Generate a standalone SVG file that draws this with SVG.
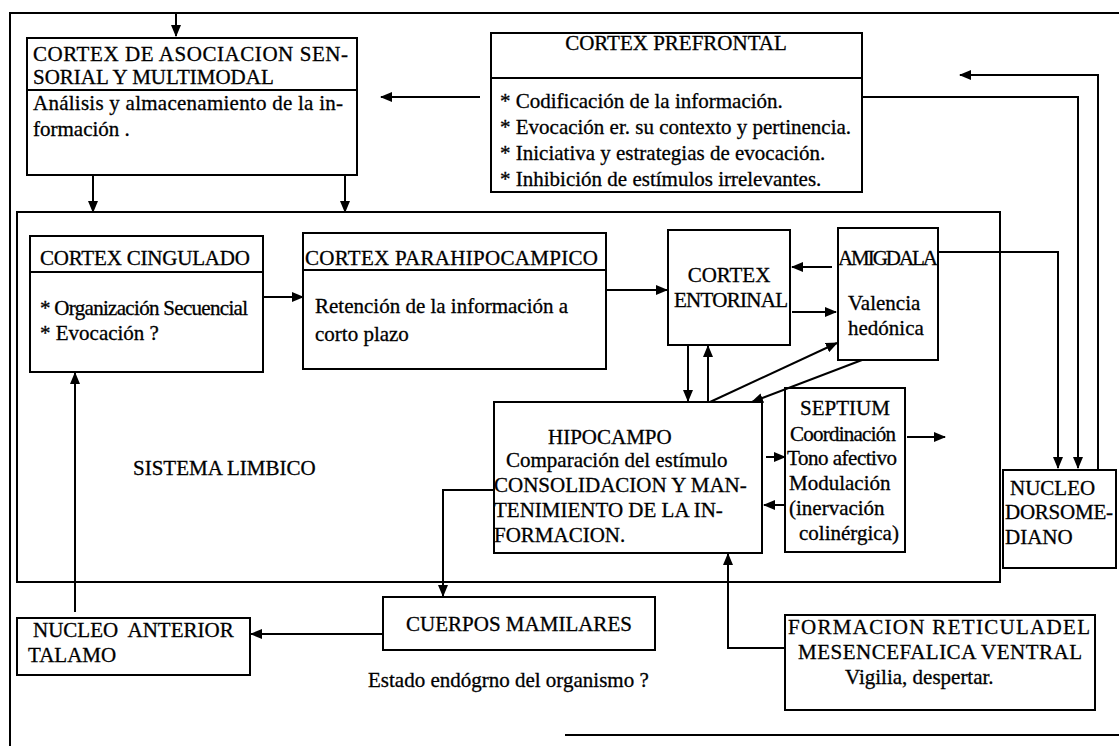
<svg xmlns="http://www.w3.org/2000/svg" width="1119" height="746" viewBox="0 0 1119 746">
<defs>
<marker id="ah" markerWidth="12" markerHeight="10" refX="11" refY="5" orient="auto" markerUnits="userSpaceOnUse">
<path d="M0,0 L12,5 L0,10 Z" fill="#000"/>
</marker>
<style>
.b{fill:none;stroke:#000;stroke-width:2}
.t{font-family:"Liberation Serif","Times New Roman",serif;font-size:21px;fill:#000;stroke:#000;stroke-width:0.3}
.c{fill:none;stroke:#000;stroke-width:2;marker-end:url(#ah)}
.l{fill:none;stroke:#000;stroke-width:2}
</style>
</defs>
<rect width="1119" height="746" fill="#fff"/>
<path class="l" d="M10,746 V13 H1119"/>
<path class="l" d="M565,735 H1119"/>

<g id="sistema-limbico">
<rect class="b" x="17" y="212" width="983" height="370"/>
<text class="t" x="133" y="475">SISTEMA LIMBICO</text>
</g>

<g id="cortex-asociacion">
<rect class="b" x="27" y="38" width="330" height="137"/>
<line class="l" x1="27" y1="90" x2="357" y2="90"/>
<text class="t" x="33" y="61" textLength="315">CORTEX DE ASOCIACION SEN-</text>
<text class="t" x="33" y="84">SORIAL Y MULTIMODAL</text>
<text class="t" x="33" y="110" textLength="310">Análisis y almacenamiento de la in-</text>
<text class="t" x="33" y="136">formación .</text>
</g>

<g id="cortex-prefrontal">
<rect class="b" x="491" y="33" width="371" height="159"/>
<line class="l" x1="491" y1="78" x2="862" y2="78"/>
<text class="t" x="676" y="50" text-anchor="middle">CORTEX PREFRONTAL</text>
<text class="t" x="500" y="108">* Codificación de la información.</text>
<text class="t" x="500" y="134">* Evocación er. su contexto y pertinencia.</text>
<text class="t" x="500" y="160">* Iniciativa y estrategias de evocación.</text>
<text class="t" x="500" y="186">* Inhibición de estímulos irrelevantes.</text>
</g>

<g id="cortex-cingulado">
<rect class="b" x="30" y="236" width="233" height="136"/>
<line class="l" x1="30" y1="272" x2="263" y2="272"/>
<text class="t" x="40" y="265" textLength="210">CORTEX CINGULADO</text>
<text class="t" x="40" y="315" textLength="208">* Organización Secuencial</text>
<text class="t" x="40" y="340">* Evocación ?</text>
</g>

<g id="cortex-parahipocampico">
<rect class="b" x="303" y="233" width="303" height="136"/>
<line class="l" x1="303" y1="270" x2="606" y2="270"/>
<text class="t" x="305" y="265" textLength="293">CORTEX PARAHIPOCAMPICO</text>
<text class="t" x="315" y="313">Retención de la información a</text>
<text class="t" x="315" y="341">corto plazo</text>
</g>

<g id="cortex-entorinal">
<rect class="b" x="668" y="230" width="122" height="115"/>
<text class="t" x="729" y="282" text-anchor="middle">CORTEX</text>
<text class="t" x="731" y="307" text-anchor="middle" textLength="114">ENTORINAL</text>
</g>

<g id="amigdala">
<rect class="b" x="838" y="228" width="100" height="132"/>
<text class="t" x="838" y="265" textLength="100">AMIGDALA</text>
<text class="t" x="848" y="310">Valencia</text>
<text class="t" x="848" y="335">hedónica</text>
</g>

<g id="hipocampo">
<rect class="b" x="494" y="402" width="268" height="151"/>
<text class="t" x="548" y="444">HIPOCAMPO</text>
<text class="t" x="506" y="467">Comparación del estímulo</text>
<text class="t" x="494" y="492">CONSOLIDACION Y MAN-</text>
<text class="t" x="494" y="517">TENIMIENTO DE LA IN-</text>
<text class="t" x="494" y="542">FORMACION.</text>
</g>

<g id="septium">
<rect class="b" x="785" y="388" width="120" height="164"/>
<text class="t" x="800" y="415">SEPTIUM</text>
<text class="t" x="790" y="441" textLength="106">Coordinación</text>
<text class="t" x="787" y="465" textLength="110">Tono afectivo</text>
<text class="t" x="789" y="490">Modulación</text>
<text class="t" x="789" y="515">(inervación</text>
<text class="t" x="799" y="540">colinérgica)</text>
</g>

<g id="nucleo-dorsomediano">
<rect class="b" x="1003" y="470" width="113" height="98"/>
<text class="t" x="1010" y="495">NUCLEO</text>
<text class="t" x="1005" y="519" textLength="108">DORSOME-</text>
<text class="t" x="1005" y="544">DIANO</text>
</g>

<g id="nucleo-anterior-talamo">
<rect class="b" x="17" y="618" width="233" height="57"/>
<text class="t" x="33" y="637" xml:space="preserve">NUCLEO  ANTERIOR</text>
<text class="t" x="28" y="662">TALAMO</text>
</g>

<g id="cuerpos-mamilares">
<rect class="b" x="383" y="597" width="272" height="53"/>
<text class="t" x="519" y="631" text-anchor="middle">CUERPOS MAMILARES</text>
<text class="t" x="368" y="687">Estado endógrno del organismo ?</text>
</g>

<g id="formacion-reticular">
<rect class="b" x="785" y="615" width="310" height="95"/>
<text class="t" x="788" y="634" textLength="302">FORMACION RETICULADEL</text>
<text class="t" x="798" y="659" textLength="284">MESENCEFALICA VENTRAL</text>
<text class="t" x="845" y="684">Vigilia, despertar.</text>
</g>

<g id="connectors">
<line class="c" x1="176" y1="13" x2="176" y2="36"/>
<line class="c" x1="480" y1="97" x2="381" y2="97"/>
<line class="c" x1="93" y1="175" x2="93" y2="212"/>
<line class="c" x1="345" y1="175" x2="345" y2="212"/>
<line class="c" x1="263" y1="297" x2="303" y2="297"/>
<line class="c" x1="606" y1="290" x2="667" y2="290"/>
<line class="c" x1="832" y1="267" x2="792" y2="267"/>
<line class="c" x1="792" y1="312" x2="836" y2="312"/>
<line class="c" x1="688" y1="345" x2="688" y2="401"/>
<line class="c" x1="708" y1="402" x2="708" y2="346"/>
<line class="c" x1="710" y1="402" x2="837" y2="343"/>
<line class="c" x1="862" y1="360" x2="752" y2="402"/>
<line class="c" x1="766" y1="457" x2="785" y2="457"/>
<line class="c" x1="785" y1="505" x2="764" y2="505"/>
<line class="c" x1="907" y1="437" x2="945" y2="437"/>
<path class="c" d="M494,490 H443 V596"/>
<line class="c" x1="75" y1="612" x2="75" y2="373"/>
<line class="c" x1="383" y1="634" x2="251" y2="634"/>
<path class="c" d="M785,648 H728 V554"/>
<path class="c" d="M938,252 H1058 V468"/>
<path class="c" d="M862,97 H1078 V468"/>
<path class="c" d="M1098,470 V75 H960"/>
</g>
</svg>
